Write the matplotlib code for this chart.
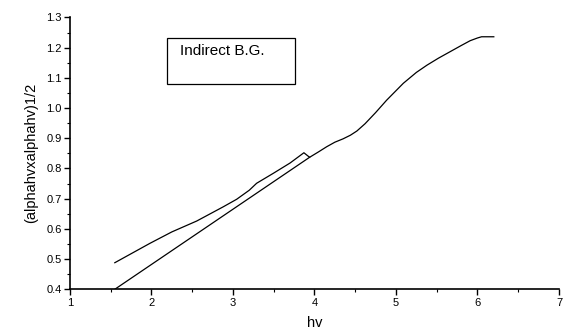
import matplotlib.pyplot as plt
from matplotlib.ticker import MultipleLocator
from matplotlib.patches import Rectangle

plt.rcParams['font.family'] = ['Liberation Sans', 'DejaVu Sans']

# curve
hv = [1.55, 1.98, 2.25, 2.555, 2.88, 3.045, 3.20, 3.29, 3.495, 3.70, 3.87, 3.94,
      4.05, 4.15, 4.25, 4.35, 4.44, 4.52, 4.62, 4.75, 4.885, 5.09, 5.25, 5.38,
      5.52, 5.66, 5.80, 5.91, 6.00, 6.05, 6.2]
ahv = [0.488, 0.552, 0.590, 0.626, 0.673, 0.698, 0.728, 0.751, 0.784, 0.818, 0.852, 0.837,
       0.855, 0.872, 0.887, 0.898, 0.910, 0.924, 0.948, 0.985, 1.026, 1.082, 1.118, 1.142,
       1.165, 1.186, 1.207, 1.223, 1.232, 1.236, 1.236]

# linear fit (indirect band gap extrapolation)
fit_x = [1.55, 3.94]
fit_y = [0.400, 0.837]

fig = plt.figure(figsize=(5.63, 3.29), dpi=100)
ax = fig.add_axes([0.1243, 0.1207, 0.8686, 0.8263])

ax.plot(hv, ahv, color='black', lw=0.9)
ax.plot(fit_x, fit_y, color='black', lw=0.9)

ax.set_xlim(1, 7)
ax.set_ylim(0.4, 1.3)
ax.xaxis.set_major_locator(MultipleLocator(1))
ax.xaxis.set_minor_locator(MultipleLocator(0.5))
ax.yaxis.set_major_locator(MultipleLocator(0.1))
ax.yaxis.set_minor_locator(MultipleLocator(0.05))
ax.yaxis.set_major_formatter(plt.FormatStrFormatter('%.1f'))

for s in ['top', 'right']:
    ax.spines[s].set_visible(False)
for s in ['left', 'bottom']:
    ax.spines[s].set_linewidth(1.2)

ax.tick_params(which='major', direction='out', length=4, width=1, labelsize=8, pad=2)
ax.tick_params(which='minor', direction='out', length=2.5, width=0.8)

ax.set_xlabel('hv', fontsize=10.5, labelpad=6)
ax.set_ylabel('(alphahvxalphahv)1/2', fontsize=10.5, labelpad=6)

# text box
box = Rectangle((167 / 563, 1 - 84.3 / 329), (295 - 167) / 563, (84.3 - 38.3) / 329,
                transform=fig.transFigure, fill=False, edgecolor='black', lw=0.9)
fig.patches.append(box)
fig.text(180 / 563, 1 - 51 / 329, 'Indirect B.G.', fontsize=11, va='center', ha='left')

fig.savefig('out.png', dpi=100)
